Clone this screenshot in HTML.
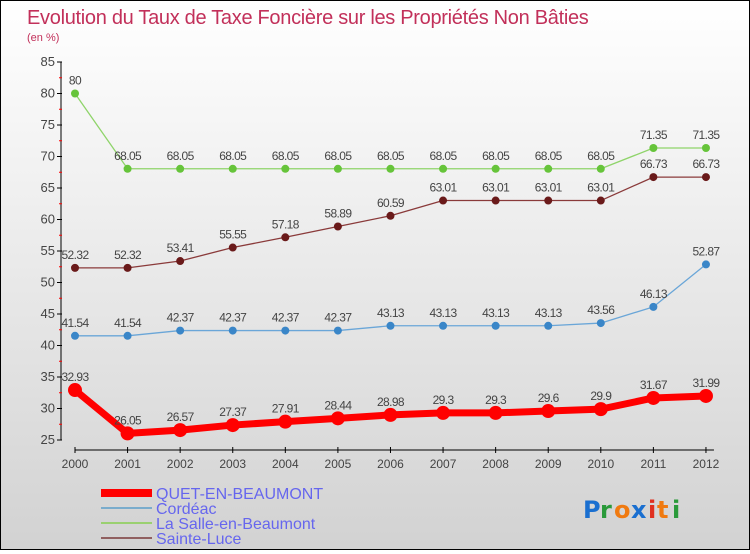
<!DOCTYPE html>
<html><head><meta charset="utf-8"><style>
html,body{margin:0;padding:0}
body{width:750px;height:550px;overflow:hidden;font-family:"Liberation Sans",sans-serif}
#wrap{position:relative;width:748px;height:548px;border:1px solid #000;background:linear-gradient(#fff 0%,#f2f2f2 30%,#d2d2d2 100%)}
</style></head><body>
<div id="wrap">
<svg id="chart" width="748" height="548" xmlns="http://www.w3.org/2000/svg" font-family="Liberation Sans,sans-serif">
<text x="26" y="23" font-size="20" fill="#c2305a" letter-spacing="-0.3">Evolution du Taux de Taxe Foncière sur les Propriétés Non Bâties</text>
<text x="26" y="40" font-size="11" fill="#c2305a">(en %)</text>
<g id="axes"></g><g id="series"></g><g id="legend"></g>
<g font-family="DejaVu Sans,sans-serif" font-size="24" font-weight="bold">
<text x="582" y="517" fill="#1a6fd0">P</text><text x="599" y="517" fill="#2a9a3a">r</text><text x="613" y="517" fill="#f07a10">o</text><text x="630" y="517" fill="#1a6fd0">x</text><text x="647" y="517" fill="#e03020">i</text><text x="656" y="517" fill="#f07a10">t</text><text x="671" y="517" fill="#2a9a3a">i</text>
</g>
</svg></div>
<script>
const years=[2000,2001,2002,2003,2004,2005,2006,2007,2008,2009,2010,2011,2012];
const quet=[32.93,26.05,26.57,27.37,27.91,28.44,28.98,29.3,29.3,29.6,29.9,31.67,31.99];
const cordeac=[41.54,41.54,42.37,42.37,42.37,42.37,43.13,43.13,43.13,43.13,43.56,46.13,52.87];
const lasalle=[80,68.05,68.05,68.05,68.05,68.05,68.05,68.05,68.05,68.05,68.05,71.35,71.35];
const sainteluce=[52.32,52.32,53.41,55.55,57.18,58.89,60.59,63.01,63.01,63.01,63.01,66.73,66.73];
const yTicks=[25,30,35,40,45,50,55,60,65,70,75,80,85];
const NS="http://www.w3.org/2000/svg";
function X(i){return 74+i*52.58;}
function Y(v){return 439-(v-25)*(378/60);}
function mk(tag,attrs,parent){const e=document.createElementNS(NS,tag);for(const k in attrs)e.setAttribute(k,attrs[k]);parent.appendChild(e);return e;}
const axes=document.getElementById('axes');
mk('line',{x1:60,y1:Y(85),x2:60,y2:Y(25),stroke:'#000','stroke-width':1},axes);
mk('line',{x1:74,y1:449,x2:X(12)+8,y2:449,stroke:'#000','stroke-width':1},axes);
yTicks.forEach(v=>{
  mk('line',{x1:56,y1:Y(v),x2:61,y2:Y(v),stroke:'#000'},axes);
  if(v<85) mk('line',{x1:58,y1:Y(v+2.5),x2:61,y2:Y(v+2.5),stroke:'#f00'},axes);
  const t=mk('text',{x:54,y:Y(v)+4,'text-anchor':'end','font-size':13,fill:'#444'},axes);t.textContent=v;
  
  
});
years.forEach((yr,i)=>{
  mk('line',{x1:X(i),y1:446,x2:X(i),y2:452,stroke:'#000'},axes);
  const t=mk('text',{x:X(i),y:467,'text-anchor':'middle','font-size':12,fill:'#444'},axes);t.textContent=yr;
  
  
});
const sg=document.getElementById('series');
function series(vals,color,dot,w,r,name){
  const g=mk('g',{},sg);
  
  
  mk('polyline',{points:vals.map((v,i)=>X(i)+','+Y(v)).join(' '),fill:'none',stroke:color,'stroke-width':w,'stroke-linejoin':'round'},g);
  vals.forEach((v,i)=>{
    const c=mk('circle',{cx:X(i),cy:Y(v),r:r,fill:dot},g);
    
    
    const t=mk('text',{x:X(i),y:Y(v)-9,'text-anchor':'middle','font-size':12,fill:'#444','letter-spacing':'-0.6'},g);t.textContent=v;
    
    
  });
}
series(lasalle,'#8fd46a','#66c43a',1.3,4,'series-la-salle');
series(sainteluce,'#8a3a3a','#6a1a1a',1.3,4,'series-sainte-luce');
series(cordeac,'#6aa6d8','#3a86c8',1.3,4,'series-cordeac');
series(quet,'#f00','#f00',7,7,'series-quet');
const lg=document.getElementById('legend');
const items=[['QUET-EN-BEAUMONT','#f00',8],['Cordéac','#7aaccc',2],['La Salle-en-Beaumont','#9ad070',2],['Sainte-Luce','#906060',2]];
items.forEach((it,i)=>{
  const y=492+i*15;
  const g=mk('g',{},lg);
  
  
  mk('line',{x1:100,y1:y,x2:151,y2:y,stroke:it[1],'stroke-width':it[2]},g);
  const t=mk('text',{x:155,y:y+6,'font-size':16,fill:'#6666ee'},g);t.textContent=it[0];
});
</script>
</body></html>
